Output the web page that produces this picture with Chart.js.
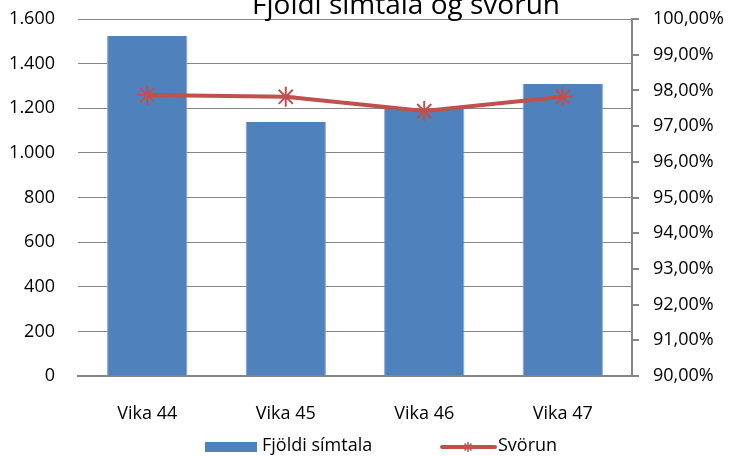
<!DOCTYPE html>
<html>
<head>
<meta charset="utf-8">
<script src="https://cdn.jsdelivr.net/npm/chart.js@4"></script>
<style>
  html, body { margin: 0; padding: 0; background: #fff; }
  #wrap { width: 730px; height: 456px; position: relative; }
</style>
</head>
<body>
<div id="wrap"><canvas id="chart"></canvas></div>
<script>
var weeks = ["Vika 44", "Vika 45", "Vika 46", "Vika 47"];
var calls = [1524, 1138, 1197, 1309];
var answerRate = [97.87, 97.82, 97.42, 97.82];
var callTicks = [0, 1600, 200];
var rateTicks = [90, 100, 1];

var FONT = "'Open Sans', sans-serif";
var BLUE = "#4F81BD";
var RED = "#C0504D";
var GRID = "#868686";

function fmtThousands(v) {
    return String(v).replace(/\B(?=(\d{3})+(?!\d))/g, ".");
}

// the tick padding would otherwise push the plot area down
function fixY(width) {
    return function (s) {
        s.width = width;
        s.paddingTop = 11;
        s.paddingBottom = 11;
    };
}

// title + legend drawn by hand so they sit where the original has them
var extras = {
    id: "extras",
    afterDraw: function (chart) {
        var c = chart.ctx;
        c.save();
        c.fillStyle = "#000";
        c.font = "28px " + FONT;
        c.textAlign = "center";
        c.textBaseline = "alphabetic";
        c.fillText("Fjöldi símtala og svörun", 406, 14);

        var ds = chart.data.datasets;
        c.font = "18px " + FONT;
        c.textAlign = "left";
        c.textBaseline = "middle";
        // bar entry
        c.fillStyle = BLUE;
        c.fillRect(205, 442, 52, 10);
        c.fillStyle = "#000";
        c.fillText(ds[0].label, 262, 446);
        // line entry
        c.strokeStyle = RED;
        c.lineWidth = 4;
        c.lineCap = "round";
        c.beginPath();
        c.moveTo(442, 447);
        c.lineTo(495, 447);
        c.stroke();
        c.lineWidth = 1.5;
        c.lineCap = "butt";
        c.beginPath();
        var cx = 468, cy = 447, r = 5;
        c.moveTo(cx, cy - r); c.lineTo(cx, cy + r);
        c.moveTo(cx - r * 0.7, cy - r * 0.7); c.lineTo(cx + r * 0.7, cy + r * 0.7);
        c.moveTo(cx - r * 0.7, cy + r * 0.7); c.lineTo(cx + r * 0.7, cy - r * 0.7);
        c.stroke();
        c.fillStyle = "#000";
        c.fillText(ds[1].label, 498, 446);
        c.restore();
    }
};

new Chart(document.getElementById("chart"), {
    type: "bar",
    data: {
        labels: weeks,
        datasets: [
            {
                type: "bar",
                label: "Fjöldi símtala",
                data: calls,
                backgroundColor: BLUE,
                borderColor: "#7FA3D1",
                borderWidth: { left: 1, right: 1, top: 0, bottom: 0 },
                barPercentage: 0.58,
                categoryPercentage: 1,
                yAxisID: "y",
                order: 2
            },
            {
                type: "line",
                label: "Svörun",
                data: answerRate,
                borderColor: RED,
                backgroundColor: RED,
                borderWidth: 4,
                pointStyle: "star",
                pointRadius: 10,
                pointBorderWidth: 2,
                pointBorderColor: RED,
                tension: 0,
                yAxisID: "y1",
                order: 1
            }
        ]
    },
    options: {
        responsive: true,
        maintainAspectRatio: false,
        animation: false,
        layout: { autoPadding: false, padding: { top: 19, left: 0, right: 0, bottom: 0 } },
        plugins: {
            legend: { display: false },
            title: { display: false },
            tooltip: { enabled: false }
        },
        scales: {
            x: {
                grid: { display: false, drawTicks: false },
                border: { display: true, color: GRID, width: 2 },
                ticks: { color: "#000", font: { family: FONT, size: 18 }, padding: 27, maxRotation: 0 },
                afterFit: function (s) { s.height = 80; }
            },
            y: {
                position: "left",
                min: callTicks[0],
                max: callTicks[1],
                ticks: {
                    stepSize: callTicks[2],
                    color: "#000",
                    font: { family: FONT, size: 18 },
                    padding: 23,
                    callback: function (v) { return fmtThousands(v); }
                },
                grid: { color: GRID, lineWidth: 1, drawTicks: false },
                border: { display: false },
                afterFit: fixY(78)
            },
            y1: {
                position: "right",
                min: rateTicks[0],
                max: rateTicks[1],
                ticks: {
                    stepSize: rateTicks[2],
                    color: "#000",
                    font: { family: FONT, size: 18 },
                    padding: 14,
                    callback: function (v) { return v.toFixed(2).replace(".", ",") + "%"; }
                },
                grid: { drawOnChartArea: false, color: GRID, tickLength: 7, lineWidth: 2 },
                border: { display: true, color: GRID, width: 2 },
                afterFit: fixY(98)
            }
        }
    },
    plugins: [extras]
});
</script>
</body>
</html>
